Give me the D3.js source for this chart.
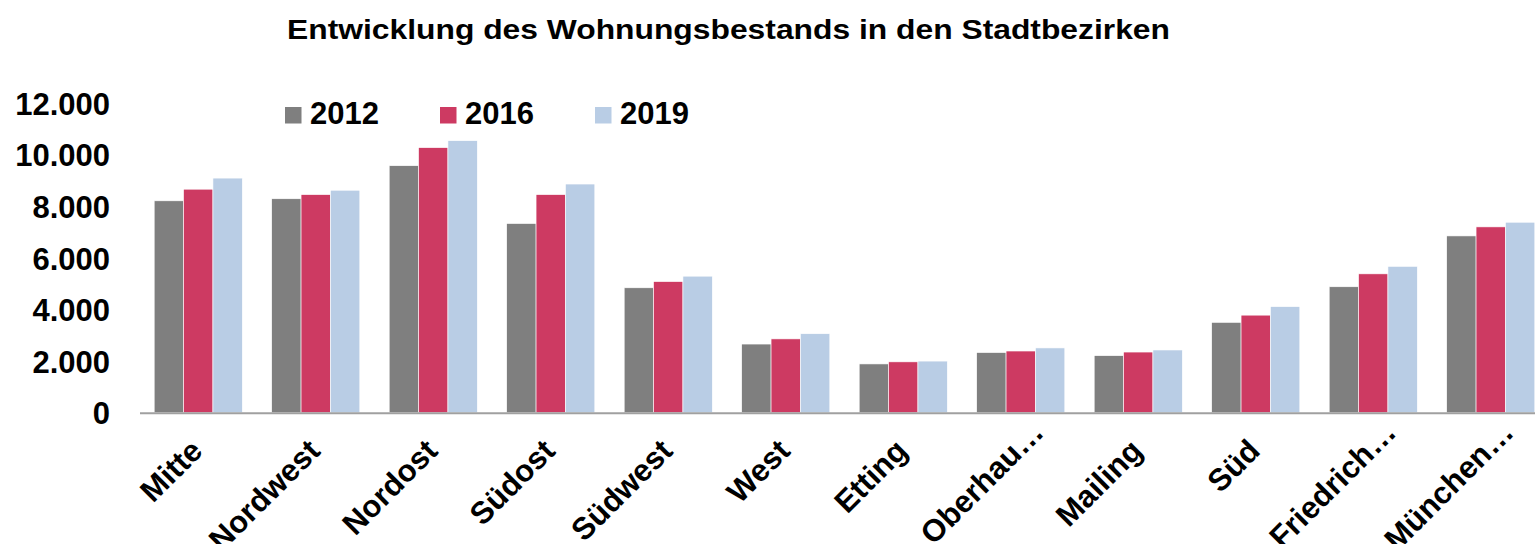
<!DOCTYPE html>
<html>
<head>
<meta charset="utf-8">
<script src="https://cdn.jsdelivr.net/npm/d3@7"></script>
<style>
  body { margin: 0; background: #fff; }
  svg { display: block; font-family: "Liberation Sans", Arial, sans-serif; font-weight: bold; }
</style>
</head>
<body>
<div id="chart"></div>
<script>
// data
const districts = ["Mitte", "Nordwest", "Nordost", "Südost", "Südwest", "West", "Etting",
  "Oberhau…", "Mailing", "Süd", "Friedrich…", "München…"];
const years = ["2012", "2016", "2019"];
const values2012 = [8210, 8290, 9570, 7330, 4840, 2660, 1890, 2330, 2210, 3500, 4880, 6850];
const values2016 = [8660, 8450, 10270, 8450, 5080, 2860, 1970, 2390, 2350, 3780, 5380, 7200];
const values2019 = [9090, 8620, 10540, 8860, 5290, 3060, 2000, 2510, 2430, 4110, 5670, 7380];
const yTicks = [0, 2000, 4000, 6000, 8000, 10000, 12000];
const colors = ["#7f7f7f", "#cd3a62", "#b9cde5"];

const series = [values2012, values2016, values2019];

const W = 1535, H = 544;
const x0 = 139.5, baseY = 412.7, topY = 103;

const svg = d3.select("#chart").append("svg")
  .attr("width", W)
  .attr("height", H);

const de = d3.formatLocale({ decimal: ",", thousands: ".", grouping: [3], currency: ["", " €"] });
const fmt = de.format(",d");

// scales
const x = d3.scaleBand()
  .domain(districts)
  .range([x0, x0 + 117.5 * districts.length])
  .paddingInner(0.25)
  .paddingOuter(0.125);

const xInner = d3.scaleBand()
  .domain(years)
  .range([0, x.bandwidth()]);

const y = d3.scaleLinear()
  .domain([0, 12000])
  .range([baseY, topY]);

// title (wider type than Arial in the original, so stretch it)
svg.append("text")
  .attr("x", 287)
  .attr("y", 39)
  .attr("font-size", 27)
  .attr("fill", "#000")
  .attr("textLength", 883)
  .attr("lengthAdjust", "spacingAndGlyphs")
  .text("Entwicklung des Wohnungsbestands in den Stadtbezirken");

// bars
const groups = svg.append("g")
  .selectAll("g")
  .data(districts)
  .join("g")
  .attr("transform", d => `translate(${x(d)},0)`);

groups.selectAll("rect")
  .data((d, i) => years.map((yr, k) => ({ yr: yr, v: series[k][i], k: k })))
  .join("rect")
  .attr("x", d => xInner(d.yr))
  .attr("width", xInner.bandwidth())
  .attr("y", d => y(d.v))
  .attr("height", d => baseY - y(d.v))
  .attr("fill", d => colors[d.k])
  .attr("stroke", "#fff")
  .attr("stroke-width", 0.6);

// y axis
const yAxis = svg.append("g")
  .attr("transform", `translate(140,0)`)
  .call(d3.axisLeft(y).tickValues(yTicks).tickSize(0).tickPadding(30).tickFormat(fmt));
yAxis.select(".domain").remove();
yAxis.selectAll("text")
  .attr("font-size", 31)
  .attr("font-family", "Liberation Sans, Arial, sans-serif")
  .attr("font-weight", "bold")
  .attr("fill", "#000")
  .attr("dy", "0.36em");

// x axis
const xAxis = svg.append("g")
  .attr("transform", `translate(0,${baseY})`)
  .call(d3.axisBottom(x).tickSize(0).tickSizeOuter(0));
xAxis.select(".domain")
  .attr("stroke", "#a0a0a0")
  .attr("stroke-width", 2);
xAxis.selectAll("text")
  .attr("font-size", 31)
  .attr("font-family", "Liberation Sans, Arial, sans-serif")
  .attr("font-weight", "bold")
  .attr("fill", "#000")
  .attr("y", 0)
  .attr("dy", 0)
  // truncated names hang their ellipsis past the tick
  .attr("dx", d => d.endsWith("…") ? "0.85em" : 0)
  .attr("text-anchor", "end")
  .attr("transform", "translate(6,40) rotate(-45)");

// legend
const legend = svg.append("g")
  .selectAll("g")
  .data(years)
  .join("g")
  .attr("transform", (d, i) => `translate(${285 + i * 155},107)`);

legend.append("rect")
  .attr("width", 16.5)
  .attr("height", 16.5)
  .attr("fill", (d, i) => colors[i]);

legend.append("text")
  .attr("x", 25)
  .attr("y", 17)
  .attr("font-size", 31)
  .attr("fill", "#000")
  .text(d => d);
</script>
</body>
</html>
